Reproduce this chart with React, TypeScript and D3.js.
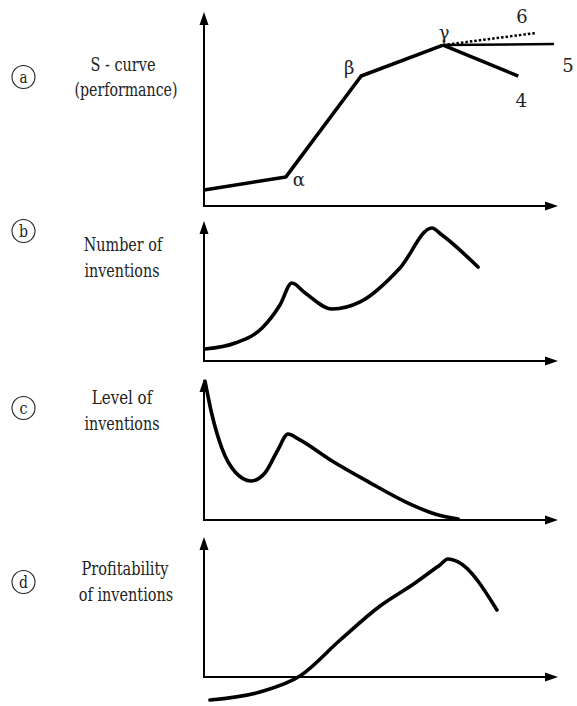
import React from "react";
import * as d3 from "d3";

// Panel (a): S-curve, piecewise linear (x: time 0..100, y: performance 0..100)
const sCurveX = [0, 23.4, 44.9, 68.3];
const sCurveY = [8.4, 15.3, 68.4, 84.7];
const sCurveNames = ["", "α", "β", "γ"];
// branches from γ
const branchNames = ["5", "4", "6"];
const branchX = [100, 89.8, 94.6];
const branchY = [85.3, 68.4, 91];

// Panel (b): number of inventions
const numX = [0.3, 8.9, 16.6, 21.7, 25.1, 28.9, 36.6, 44.6, 56, 65.1, 68, 78.3];
const numY = [8.8, 13.2, 24.3, 41.2, 57.4, 50, 38.2, 43.4, 68.4, 97.8, 92.6, 69.1];

// Panel (c): level of inventions
const lvlX = [0.3, 2.3, 5.1, 8.9, 13.4, 17.4, 21.1, 24, 26.9, 36.6, 47.1, 57.7, 66, 72.6];
const lvlY = [102, 77.2, 52.9, 35.3, 28.7, 34.6, 51.5, 63.2, 59.6, 43.4, 27.9, 13.2, 4.4, 0.7];

// Panel (d): profitability of inventions
const profX = [1.7, 16, 27.4, 38.9, 50.3, 60.3, 67.4, 69.7, 72.6, 83.7];
const profY = [-16.9, -11, 0.7, 27.2, 52.2, 69.1, 82.4, 86.8, 84.6, 49.3];

const panelLetters = ["a", "b", "c", "d"];
const panelTitles = [
  ["S - curve", "(performance)"],
  ["Number of", "inventions"],
  ["Level of", "inventions"],
  ["Profitability", "of inventions"],
];

// Times-like advance widths (per 1000 em) used to size the serif titles
const timesWidths: Record<string, number> = {
  " ": 250, "(": 333, ")": 333, "-": 333, S: 556, N: 722, L: 611, P: 556,
  a: 444, b: 500, c: 444, e: 444, f: 333, i: 278, l: 278, m: 778, n: 500,
  o: 500, p: 500, r: 333, s: 389, t: 278, u: 500, v: 500, y: 500,
};
const timesLength = (s: string, size: number) =>
  (s.split("").reduce((acc, ch) => acc + (timesWidths[ch] ?? 500), 0) * size) / 1000;

const W = 577;
const H = 706;
const AX = 204;
const AX_END = 558;
const FONT = "'DejaVu Serif', 'Liberation Serif', 'Times New Roman', serif";
const TITLE_SIZE = 18.5;

const panels = [
  { axisY: 206, topY: 12, yTop: 16, letterY: 77, titleY: [71, 96], titleX: [123, 126] },
  { axisY: 361, topY: 221, yTop: 225, letterY: 231, titleY: [251, 277], titleX: [123, 122] },
  { axisY: 520, topY: 379, yTop: 384, letterY: 408, titleY: [404, 430], titleX: [122, 122] },
  { axisY: 677, topY: 537, yTop: 541, letterY: 582, titleY: [575, 601], titleX: [125, 126] },
];

const xScale = d3.scaleLinear().domain([0, 100]).range([AX, AX + 350]);

function Axes({ axisY, topY }: { axisY: number; topY: number }) {
  const ah = 13;
  const aw = 4.5;
  return (
    <g>
      <line x1={AX} y1={axisY + 1} x2={AX} y2={topY + ah - 2} stroke="#000" strokeWidth={2} />
      <path d={`M${AX},${topY} L${AX - aw},${topY + ah} L${AX + aw},${topY + ah} Z`} fill="#000" />
      <line x1={AX - 1} y1={axisY} x2={AX_END - ah + 2} y2={axisY} stroke="#000" strokeWidth={2} />
      <path d={`M${AX_END},${axisY} L${AX_END - ah},${axisY - aw} L${AX_END - ah},${axisY + aw} Z`} fill="#000" />
    </g>
  );
}

export default function App() {
  const ys = panels.map((p) => d3.scaleLinear().domain([0, 100]).range([p.axisY, p.yTop]));

  const linear = d3
    .line<[number, number]>()
    .x((d) => xScale(d[0]))
    .y((d) => ys[0](d[1]))
    .curve(d3.curveLinear);

  const smooth = (idx: number) =>
    d3
      .line<[number, number]>()
      .x((d) => xScale(d[0]))
      .y((d) => ys[idx](d[1]))
      .curve(d3.curveMonotoneX);

  const sPts: [number, number][] = sCurveX.map((x, i) => [x, sCurveY[i]]);
  const gamma = sPts[sPts.length - 1];
  const numPts: [number, number][] = numX.map((x, i) => [x, numY[i]]);
  const lvlPts: [number, number][] = lvlX.map((x, i) => [x, lvlY[i]]);
  const profPts: [number, number][] = profX.map((x, i) => [x, profY[i]]);

  const labelPos: Record<string, [number, number]> = {
    "α": [13, 9],
    "β": [-12, -2],
    "γ": [1, -6],
    "5": [14, 28],
    "4": [3, 31],
    "6": [-13, -10],
  };

  const textStyle = { fontFamily: FONT } as React.CSSProperties;

  return (
    <svg
      width={W}
      height={H}
      style={{ position: "absolute", left: 0, top: 0, background: "#fff", fontFamily: FONT }}
    >
      <rect width={W} height={H} fill="#fff" />
      {panels.map((p, i) => (
        <g key={i}>
          <Axes axisY={p.axisY} topY={p.topY} />
          <circle cx={23.5} cy={p.letterY} r={11.5} fill="none" stroke="#222" strokeWidth={1.1} />
          <text
            x={23.5}
            y={p.letterY + 5.5}
            textAnchor="middle"
            style={textStyle}
            fontSize={17}
            fill="#222"
            textLength={timesLength(panelLetters[i], 18)}
            lengthAdjust="spacingAndGlyphs"
          >
            {panelLetters[i]}
          </text>
          {panelTitles[i].map((t, j) => (
            <text
              key={j}
              x={p.titleX[j]}
              y={p.titleY[j]}
              textAnchor="middle"
              style={textStyle}
              fontSize={TITLE_SIZE}
              fill="#222"
              textLength={timesLength(t, 18)}
              lengthAdjust="spacingAndGlyphs"
            >
              {t}
            </text>
          ))}
        </g>
      ))}

      {/* Panel a */}
      <path d={linear(sPts) || ""} fill="none" stroke="#000" strokeWidth={3.6} strokeLinejoin="round" />
      {branchNames.map((n, i) => (
        <path
          key={n}
          d={linear([gamma, [branchX[i], branchY[i]]]) || ""}
          fill="none"
          stroke="#000"
          strokeWidth={n === "4" ? 3.5 : 2.5}
          strokeDasharray={n === "6" ? "2.5,2" : undefined}
        />
      ))}
      {sPts.map((d, i) =>
        sCurveNames[i] ? (
          <text
            key={i}
            x={xScale(d[0]) + labelPos[sCurveNames[i]][0]}
            y={ys[0](d[1]) + labelPos[sCurveNames[i]][1]}
            textAnchor="middle"
            style={textStyle}
            fontSize={18}
            fill="#222"
          >
            {sCurveNames[i]}
          </text>
        ) : null
      )}
      {branchNames.map((n, i) => (
        <text
          key={n}
          x={xScale(branchX[i]) + labelPos[n][0]}
          y={ys[0](branchY[i]) + labelPos[n][1]}
          textAnchor="middle"
          style={textStyle}
          fontSize={18}
          fill="#222"
        >
          {n}
        </text>
      ))}

      {/* Panel b */}
      <path d={smooth(1)(numPts) || ""} fill="none" stroke="#000" strokeWidth={3.6} strokeLinecap="round" strokeLinejoin="round" />
      {/* Panel c */}
      <path d={smooth(2)(lvlPts) || ""} fill="none" stroke="#000" strokeWidth={3.6} strokeLinecap="round" strokeLinejoin="round" />
      {/* Panel d */}
      <path d={smooth(3)(profPts) || ""} fill="none" stroke="#000" strokeWidth={3.6} strokeLinecap="round" strokeLinejoin="round" />
    </svg>
  );
}
